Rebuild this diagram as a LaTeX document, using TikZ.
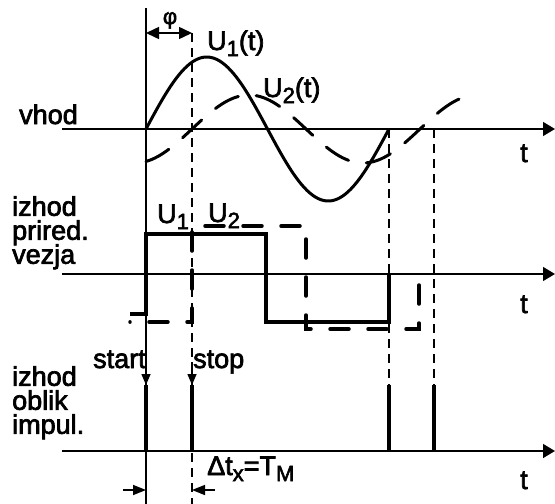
\documentclass[tikz,border=0pt]{standalone}
\usepackage{fontspec}
\setmainfont{Liberation Sans}[FakeBold=2.5]
\usetikzlibrary{arrows.meta}
\newcommand{\lowsub}[1]{\raisebox{-6pt}{\fontsize{22}{22}\selectfont #1}}
\newcommand{\labelfont}{\fontsize{27}{24}\selectfont\lineskiplimit=-40pt\relax}

\begin{document}
\begin{tikzpicture}[
    x=1pt, y=-1pt,
    txt/.style={
      inner sep=0pt, align=left, font=\labelfont
    },
    axis_arrow/.style={
      line width=1.5pt, -{Triangle[length=12pt,width=14pt]}
    },
    guide_solid/.style={line width=1.5pt},
    guide_dashed/.style={line width=1.5pt, dash pattern=on 9pt off 6pt},
    wave_u1/.style={line width=3pt, line join=round},
    wave_u2/.style={line width=3pt, line cap=round, dash pattern=on 26pt off 18pt},
    rect_u1/.style={line width=3.5pt},
    rect_u2/.style={line width=3.5pt, line cap=round, dash pattern=on 19pt off 19pt},
    pulse/.style={line width=3.5pt},
    mark_arrow/.style={
      line width=1.5pt, -{Triangle[length=11pt,width=9pt]}
    },
    span_arrow/.style={
      line width=1.5pt,
      {Triangle[length=13pt,width=12pt]}-{Triangle[length=13pt,width=12pt]}
    }
  ]
  \useasboundingbox (0,0) rectangle (555,504);

  % --- Time axes ---
  \coordinate (ax1_l) at (62,129);  \coordinate (ax1_r) at (555,129);
  \coordinate (ax2_l) at (62,274);  \coordinate (ax2_r) at (555,274);
  \coordinate (ax3_l) at (62,451);  \coordinate (ax3_r) at (555,451);
  \draw[axis_arrow] (ax1_l) -- (ax1_r);
  \draw[axis_arrow] (ax2_l) -- (ax2_r);
  \draw[axis_arrow] (ax3_l) -- (ax3_r);

  % --- Guide lines ---
  \coordinate (start_top) at (146,8);   \coordinate (start_bot) at (146,504);
  \coordinate (stop_top) at (192,33);   \coordinate (stop_bot) at (192,504);
  \coordinate (zero_a) at (389,129);    \coordinate (zero_a_bot) at (389,385);
  \coordinate (zero_b) at (434,129);    \coordinate (zero_b_bot) at (434,385);
  \draw[guide_solid] (start_top) -- (start_bot);
  \draw[guide_dashed] (stop_top) -- (stop_bot);
  \draw[guide_dashed] (zero_a) -- (zero_a_bot);
  \draw[guide_dashed] (zero_b) -- (zero_b_bot);

  % --- Input signals ---
  \draw[wave_u1] plot[domain=146:389, samples=90]
    (\x, {129-72*sin((\x-146)/243*360)});
  \draw[wave_u2] plot[domain=146:475, samples=110]
    (\x, {129-34*sin((\x-192)/228*360)});

  % --- Comparator outputs ---
  \draw[rect_u1] (130,314) -- (146,314) -- (146,234) -- (266,234)
    -- (266,322) -- (389,322) -- (389,274);
  \draw[rect_u2] (419,285) -- (419,329) -- (306,329) -- (306,226)
    -- (192,226) -- (192,322) -- (130,322);

  % --- Shaped pulses ---
  \coordinate (p1_top) at (146,385); \coordinate (p1_bot) at (146,451);
  \coordinate (p2_top) at (192,385); \coordinate (p2_bot) at (192,451);
  \coordinate (p3_top) at (389,385); \coordinate (p3_bot) at (389,451);
  \coordinate (p4_top) at (434,385); \coordinate (p4_bot) at (434,451);
  \draw[pulse] (p1_top) -- (p1_bot);
  \draw[pulse] (p2_top) -- (p2_bot);
  \draw[pulse] (p3_top) -- (p3_bot);
  \draw[pulse] (p4_top) -- (p4_bot);
  \coordinate (start_from) at (146,362);
  \coordinate (stop_from) at (192,362);
  \draw[mark_arrow] (start_from) -- (p1_top);
  \draw[mark_arrow] (stop_from) -- (p2_top);

  % --- Phase and interval arrows ---
  \coordinate (phi_l) at (146,33); \coordinate (phi_r) at (192,33);
  \draw[span_arrow] (phi_l) -- (phi_r);
  \coordinate (dt_l) at (146,490); \coordinate (dt_lf) at (123,490);
  \coordinate (dt_r) at (192,490); \coordinate (dt_rf) at (215,490);
  \draw[mark_arrow, -{Triangle[length=13pt,width=10pt]}] (dt_lf) -- (dt_l);
  \draw[mark_arrow, -{Triangle[length=13pt,width=10pt]}] (dt_rf) -- (dt_r);

  % --- Labels ---
  \node[txt, anchor=base west] (vhod) at (19,124) {vhod};
  \node[txt, anchor=north west] (prired) at (12,196) {izhod\\prired.\\vezja};
  \node[txt, anchor=north west] (oblik) at (12,366) {izhod\\oblik\\impul.};
  \node[txt, anchor=base west] (lbl_u1t) at (207,50) {U\lowsub{1}(t)};
  \node[txt, anchor=base west] (lbl_u2t) at (263,97) {U\lowsub{2}(t)};
  \node[txt, anchor=base west] (lbl_u1) at (157,223) {U\lowsub{1}};
  \node[txt, anchor=base west] (lbl_u2) at (208,222) {U\lowsub{2}};
  \node[txt, anchor=base west] (t1) at (520,162) {t};
  \node[txt, anchor=base west] (t2) at (520,313) {t};
  \node[txt, anchor=base west] (t3) at (520,489) {t};
  \node[txt, anchor=base west] (start) at (93,368) {start};
  \node[txt, anchor=base west] (stop) at (193,368) {stop};
  \node[txt, font=\fontsize{22}{22}\selectfont, anchor=base] (phi) at (170,24) {φ};
  \node[txt, anchor=base west] (dtx) at (207,475) {Δt\lowsub{x}=T\lowsub{M}};
\end{tikzpicture}
\end{document}
